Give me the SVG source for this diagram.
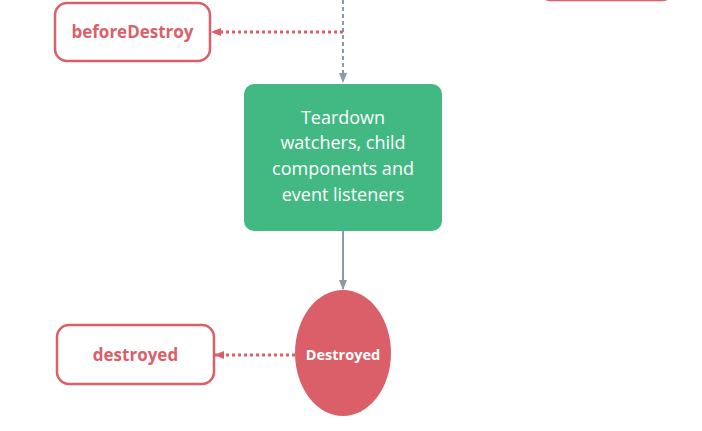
<svg xmlns="http://www.w3.org/2000/svg" width="702" height="431" viewBox="0 0 702 431">
<defs>
<style>
.hook{fill:#fff;stroke:#DB5F68;stroke-width:2.5}
.hooktxt{font-family:"Open Sans","Noto Sans",sans-serif;font-weight:bold;font-size:17px;fill:#DB5F68;text-anchor:middle}
.gray{stroke:#8A9BA8;stroke-width:2;fill:none}
.reddot{stroke:#DB5F68;stroke-width:3;stroke-dasharray:3 3;fill:none}
.wtxt{font-family:"Open Sans","Noto Sans",sans-serif;font-size:18px;fill:#fff;text-anchor:middle}
</style>
<marker id="ag" viewBox="0 0 10 10" refX="9" refY="5" markerWidth="10" markerHeight="10" orient="auto" markerUnits="userSpaceOnUse">
<path d="M0,1 L10,5 L0,9 z" fill="#8A9BA8"/>
</marker>
<marker id="ar" viewBox="0 0 10 10" refX="9" refY="5" markerWidth="10" markerHeight="10" orient="auto" markerUnits="userSpaceOnUse">
<path d="M0,1 L10,5 L0,9 z" fill="#DB5F68"/>
</marker>
</defs>
<g id="connectors">
<path class="gray" d="M343,0 V82" stroke-dasharray="4 3" marker-end="url(#ag)"/>
<path class="gray" d="M343,231 V289" marker-end="url(#ag)"/>
<path class="reddot" d="M343,32 H212" marker-end="url(#ar)"/>
<path class="reddot" d="M295,355 H215" marker-end="url(#ar)"/>
</g>
<g id="topbox">
<rect class="hook" x="539" y="-50" width="135" height="50" rx="12"/>
</g>
<g id="beforeDestroy">
<rect class="hook" x="55" y="3" width="155" height="58" rx="12"/>
<text class="hooktxt" x="132.5" y="38">beforeDestroy</text>
</g>
<g id="teardown">
<rect x="244" y="84" width="198" height="147" rx="10" fill="#42B983"/>
<text class="wtxt" x="343" y="124">Teardown</text>
<text class="wtxt" x="343" y="149">watchers, child</text>
<text class="wtxt" x="343" y="175">components and</text>
<text class="wtxt" x="343" y="201">event listeners</text>
</g>
<g id="destroyedState">
<ellipse cx="343" cy="353" rx="48" ry="63" fill="#DB5F68"/>
<text x="343" y="360" font-family="'Open Sans','Noto Sans',sans-serif" font-weight="bold" font-size="14.5" fill="#fff" text-anchor="middle">Destroyed</text>
</g>
<g id="destroyed">
<rect class="hook" x="57" y="325" width="157" height="59" rx="12"/>
<text class="hooktxt" x="135.5" y="361">destroyed</text>
</g>
</svg>
